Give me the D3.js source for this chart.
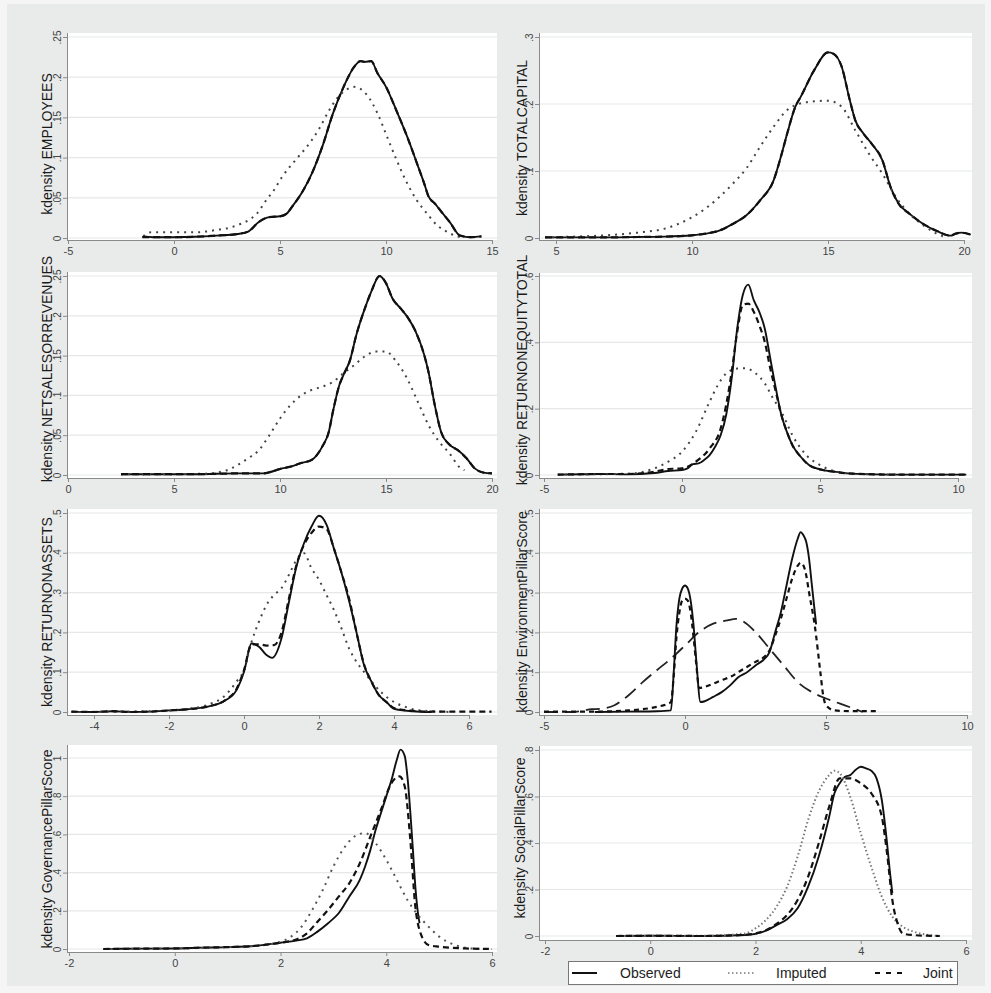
<!DOCTYPE html>
<html><head><meta charset="utf-8">
<script src="https://cdn.jsdelivr.net/npm/d3@7"></script>
<style>body{margin:0;background:#f5f5f5}text{font-family:"Liberation Sans",Arial,sans-serif}</style>
</head><body><svg id="c" width="991" height="993"></svg>
<script>
// ---------- DATA ----------
const titles = ["kdensity EMPLOYEES","kdensity TOTALCAPITAL","kdensity NETSALESORREVENUES","kdensity RETURNONEQUITYTOTAL",
  "kdensity RETURNONASSETS","kdensity EnvironmentPillarScore","kdensity GovernancePillarScore","kdensity SocialPillarScore"];
const xTickValues = [[-5,0,5,10,15],[5,10,15,20],[0,5,10,15,20],[-5,0,5,10],[-4,-2,0,2,4,6],[-5,0,5,10],[-2,0,2,4,6],[-2,0,2,4,6]];
const yTickValues = [[0,.05,.1,.15,.2,.25],[0,.1,.2,.3],[0,.05,.1,.15,.2,.25],[0,.2,.4,.6],[0,.1,.2,.3,.4,.5],[0,.1,.2,.3,.4,.5],[0,.2,.4,.6,.8,1],[0,.2,.4,.6,.8]];
const yTickLabels = [["0",".05",".1",".15",".2",".25"],["0",".1",".2",".3"],["0",".05",".1",".15",".2",".25"],["0",".2",".4",".6"],
  ["0",".1",".2",".3",".4",".5"],["0",".1",".2",".3",".4",".5"],["0",".2",".4",".6",".8","1"],["0",".2",".4",".6",".8"]];
const legendLabels = ["Observed","Imputed","Joint"];

const employeesObserved = [[-1.45,0.002],[-1,0.001],[0,0.001],[1,0.0015],[2,0.003],[3,0.005],[3.5,0.008],[4,0.02],[4.5,0.026],[5,0.027],[5.3,0.03],[5.6,0.04],[6,0.055],[6.5,0.08],[7,0.114],[7.5,0.155],[8,0.188],[8.5,0.213],[8.8,0.22],[9.0,0.219],[9.3,0.22],[9.6,0.205],[10,0.188],[10.5,0.158],[11,0.126],[11.5,0.09],[11.8,0.068],[12,0.052],[12.3,0.043],[12.6,0.033],[13,0.02],[13.5,0.003],[14,0.001],[14.5,0.002]];
const employeesImputed = [[-1.45,0.002],[-1.1,0.007],[-0.5,0.007],[0,0.007],[0.5,0.007],[1,0.007],[1.5,0.008],[2,0.01],[2.5,0.012],[3,0.016],[3.5,0.022],[3.9,0.03],[4.35,0.047],[4.7,0.059],[5.1,0.076],[5.8,0.099],[6.4,0.118],[6.85,0.136],[7.3,0.158],[7.7,0.174],[8.1,0.184],[8.5,0.188],[9.1,0.178],[9.6,0.155],[10.05,0.126],[10.5,0.097],[11,0.068],[11.45,0.047],[11.95,0.03],[12.4,0.016],[12.9,0.0075],[13.35,0.002],[13.6,0.001]];
const employeesJoint = [[-1.5,0.001],[-1,0.001],[0,0.001],[1,0.0015],[2,0.003],[3,0.005],[3.5,0.008],[4,0.02],[4.5,0.026],[5,0.027],[5.3,0.03],[5.6,0.04],[6,0.055],[6.5,0.08],[7,0.114],[7.5,0.155],[8,0.188],[8.5,0.213],[8.8,0.22],[9.0,0.219],[9.3,0.22],[9.6,0.205],[10,0.188],[10.5,0.158],[11,0.126],[11.5,0.09],[11.8,0.068],[12,0.052],[12.3,0.043],[12.6,0.033],[13,0.02],[13.5,0.003],[14,0.001],[14.5,0.002]];

const capitalObserved = [[4.6,0.001],[6,0.001],[7,0.001],[8,0.0015],[9,0.002],[10,0.004],[10.5,0.0065],[11,0.011],[11.5,0.021],[12,0.034],[12.5,0.056],[13,0.086],[13.3,0.126],[13.5,0.156],[13.8,0.196],[14,0.211],[14.5,0.251],[15,0.277],[15.2,0.275],[15.5,0.256],[15.8,0.206],[16,0.176],[16.3,0.156],[16.6,0.141],[17,0.116],[17.3,0.076],[17.6,0.051],[18,0.036],[18.5,0.021],[19,0.0105],[19.5,0.0035],[19.7,0.0065],[19.9,0.008],[20.25,0.005]];
const capitalImputed = [[4.6,0.001],[6,0.0025],[7,0.0045],[8,0.008],[9,0.014],[9.5,0.021],[10,0.031],[10.5,0.044],[11,0.061],[11.5,0.081],[12,0.104],[12.5,0.136],[13,0.166],[13.5,0.191],[14,0.201],[14.5,0.204],[15,0.205],[15.5,0.196],[16,0.161],[16.5,0.126],[17,0.096],[17.5,0.061],[18,0.036],[18.5,0.019],[19,0.0065],[19.3,0.0015]];
const capitalJoint = [[4.6,0.001],[6,0.001],[7,0.001],[8,0.0015],[9,0.002],[10,0.004],[10.5,0.0065],[11,0.011],[11.5,0.021],[12,0.034],[12.5,0.056],[13,0.086],[13.3,0.126],[13.5,0.156],[13.8,0.196],[14,0.211],[14.5,0.251],[15,0.277],[15.2,0.275],[15.5,0.256],[15.8,0.206],[16,0.176],[16.3,0.156],[16.6,0.141],[17,0.116],[17.3,0.076],[17.6,0.051],[18,0.036],[18.5,0.021],[19,0.0105],[19.5,0.0035],[19.7,0.0065],[19.9,0.008],[20.25,0.005]];

const salesObserved = [[2.5,0.001],[4,0.001],[6,0.001],[8,0.002],[9.2,0.002],[9.5,0.0034],[10,0.0075],[10.5,0.0105],[11,0.015],[11.5,0.019],[12,0.036],[12.3,0.054],[12.5,0.08],[12.8,0.113],[13,0.126],[13.3,0.144],[13.6,0.176],[14,0.209],[14.3,0.23],[14.7,0.25],[15,0.241],[15.3,0.222],[15.7,0.209],[16,0.199],[16.4,0.18],[16.8,0.151],[17,0.13],[17.3,0.088],[17.6,0.054],[18,0.038],[18.4,0.031],[18.8,0.021],[19.2,0.008],[19.6,0.003],[20,0.002]];
const salesImputed = [[2.5,0.001],[4,0.001],[6.5,0.0017],[7,0.003],[7.5,0.006],[8,0.0126],[8.5,0.021],[9,0.031],[9.5,0.05],[10,0.071],[10.5,0.088],[11,0.1],[11.5,0.107],[12,0.111],[12.5,0.117],[13,0.128],[13.5,0.138],[14,0.149],[14.5,0.155],[15,0.155],[15.5,0.142],[16,0.121],[16.5,0.092],[17,0.063],[17.5,0.042],[18,0.027],[18.5,0.009],[18.7,0.006]];
const salesJoint = [[2.5,0.001],[4,0.001],[6,0.001],[8,0.002],[9.2,0.002],[9.5,0.0034],[10,0.0075],[10.5,0.0105],[11,0.015],[11.5,0.019],[12,0.036],[12.3,0.054],[12.5,0.08],[12.8,0.113],[13,0.126],[13.3,0.144],[13.6,0.176],[14,0.209],[14.3,0.23],[14.7,0.25],[15,0.241],[15.3,0.222],[15.7,0.209],[16,0.199],[16.4,0.18],[16.8,0.151],[17,0.13],[17.3,0.088],[17.6,0.054],[18,0.038],[18.4,0.031],[18.8,0.021],[19.2,0.008],[19.6,0.003],[20,0.002]];

const roeObserved = [[-4.5,0.001],[-3,0.003],[-2,0.002],[-1,0.006],[-0.5,0.012],[0,0.015],[0.2,0.02],[0.4,0.033],[0.6,0.035],[0.8,0.045],[1,0.06],[1.2,0.085],[1.4,0.12],[1.6,0.181],[1.8,0.291],[2,0.441],[2.2,0.542],[2.4,0.574],[2.6,0.527],[2.8,0.492],[3,0.441],[3.2,0.351],[3.4,0.261],[3.6,0.181],[3.8,0.13],[4,0.09],[4.3,0.055],[4.6,0.03],[5,0.017],[5.5,0.01],[6,0.005],[7,0.002],[8,0.001],[10.3,0.001]];
const roeImputed = [[-4.5,0.001],[-2,0.004],[-1.5,0.008],[-1,0.02],[-0.5,0.04],[0,0.07],[0.5,0.13],[1,0.221],[1.3,0.271],[1.6,0.306],[2,0.321],[2.3,0.322],[2.6,0.311],[3,0.276],[3.3,0.231],[3.6,0.191],[4,0.12],[4.5,0.06],[5,0.03],[5.5,0.012],[6,0.005],[7,0.002],[8,0.001]];
const roeJoint = [[-4.5,0.001],[-3,0.003],[-2,0.003],[-1,0.01],[-0.5,0.018],[0,0.02],[0.5,0.04],[1,0.08],[1.4,0.14],[1.6,0.211],[1.8,0.311],[2,0.431],[2.2,0.512],[2.4,0.517],[2.6,0.492],[2.8,0.452],[3,0.401],[3.2,0.321],[3.4,0.251],[3.6,0.181],[3.8,0.13],[4,0.09],[4.3,0.055],[4.6,0.03],[5,0.017],[5.5,0.01],[6,0.005],[7,0.002],[8,0.001],[10.3,0.001]];

const roaObserved = [[-4.6,0.001],[-4,0],[-3.5,0.002],[-3,0],[-2.5,0.001],[-2,0.004],[-1.5,0.007],[-1,0.013],[-0.5,0.029],[-0.2,0.055],[0,0.101],[0.2,0.172],[0.4,0.164],[0.6,0.143],[0.75,0.136],[1,0.185],[1.2,0.277],[1.4,0.366],[1.6,0.424],[1.8,0.466],[2,0.493],[2.2,0.471],[2.4,0.41],[2.6,0.35],[2.8,0.28],[3,0.2],[3.2,0.118],[3.4,0.076],[3.6,0.042],[3.8,0.025],[4,0.008],[4.5,0.002],[5,0]];
const roaImputed = [[-4.6,0],[-2,0.003],[-1.5,0.008],[-1,0.017],[-0.5,0.042],[-0.2,0.076],[0,0.105],[0.2,0.176],[0.4,0.227],[0.6,0.269],[0.8,0.294],[1,0.311],[1.2,0.345],[1.4,0.382],[1.6,0.399],[1.8,0.361],[2,0.332],[2.2,0.294],[2.4,0.256],[2.6,0.21],[2.8,0.16],[3,0.126],[3.2,0.101],[3.45,0.071],[3.7,0.046],[4,0.025],[4.3,0.013],[4.6,0.005],[5,0.002],[5.5,0]];
const roaJoint = [[-4.6,0.001],[-4,0],[-3.5,0.002],[-3,0],[-2.5,0.001],[-2,0.004],[-1.5,0.007],[-1,0.013],[-0.5,0.03],[-0.2,0.058],[0,0.105],[0.2,0.17],[0.4,0.17],[0.6,0.167],[0.8,0.168],[1,0.2],[1.2,0.286],[1.4,0.37],[1.6,0.42],[1.8,0.45],[2,0.466],[2.2,0.46],[2.4,0.41],[2.6,0.35],[2.8,0.286],[3,0.2],[3.2,0.12],[3.4,0.076],[3.6,0.042],[3.8,0.025],[4,0.01],[4.5,0.003],[5,0.001],[6.6,0.001]];

const envObserved = [[-3.2,0],[-2,0.001],[-1,0.002],[-0.5,0.004],[-0.4,0.1],[-0.3,0.22],[-0.2,0.285],[-0.1,0.31],[0,0.318],[0.1,0.31],[0.2,0.28],[0.3,0.22],[0.4,0.13],[0.55,0.025],[0.7,0.027],[1,0.038],[1.3,0.05],[1.6,0.067],[1.9,0.088],[2.2,0.1],[2.5,0.117],[2.8,0.132],[3,0.151],[3.2,0.201],[3.4,0.251],[3.6,0.318],[3.8,0.385],[4,0.436],[4.1,0.452],[4.2,0.444],[4.3,0.427],[4.4,0.385],[4.5,0.318],[4.65,0.22]];
const envImputed = [[-5,0],[-4,0],[-3.3,0.007],[-3,0.008],[-2.5,0.017],[-2,0.042],[-1.5,0.075],[-1,0.105],[-0.5,0.134],[0,0.167],[0.5,0.201],[1,0.222],[1.5,0.23],[1.8,0.234],[2,0.23],[2.5,0.201],[3,0.159],[3.5,0.117],[4,0.075],[4.5,0.05],[5,0.034],[5.5,0.021],[6,0.008],[6.3,0]];
const envJoint = [[-5,0.001],[-4,0.001],[-3.2,0.001],[-2,0.004],[-1,0.013],[-0.6,0.021],[-0.5,0.025],[-0.4,0.09],[-0.3,0.19],[-0.2,0.25],[-0.1,0.28],[0,0.285],[0.1,0.28],[0.2,0.25],[0.3,0.19],[0.4,0.12],[0.5,0.06],[0.7,0.063],[1,0.071],[1.3,0.08],[1.6,0.088],[2,0.105],[2.5,0.126],[2.8,0.138],[3,0.155],[3.2,0.193],[3.4,0.235],[3.6,0.285],[3.8,0.335],[4,0.368],[4.1,0.375],[4.2,0.368],[4.3,0.343],[4.4,0.3],[4.6,0.218],[4.8,0.1],[4.9,0.042],[5,0.017],[5.3,0.004],[6,0.002],[6.8,0.002]];

const govObserved = [[-1.35,0],[-1,0.001],[0,0.003],[0.5,0.007],[1,0.01],[1.5,0.016],[2,0.033],[2.3,0.044],[2.5,0.056],[2.7,0.091],[2.9,0.135],[3.1,0.187],[3.3,0.274],[3.5,0.362],[3.6,0.432],[3.7,0.519],[3.8,0.624],[3.9,0.712],[4,0.799],[4.1,0.886],[4.2,0.991],[4.27,1.044],[4.35,1.01],[4.4,0.904],[4.5,0.537],[4.55,0.327],[4.6,0.187],[4.63,0.135]];
const govImputed = [[-1.35,0],[0,0.003],[1,0.01],[1.5,0.016],[2,0.038],[2.2,0.065],[2.4,0.117],[2.6,0.205],[2.8,0.309],[3,0.432],[3.2,0.528],[3.4,0.589],[3.6,0.607],[3.8,0.554],[4,0.467],[4.2,0.362],[4.4,0.257],[4.6,0.178],[4.8,0.117],[5,0.065],[5.3,0.021],[5.6,0.003],[6,0]];
const govJoint = [[-1.35,0],[-1,0.001],[0,0.003],[0.5,0.007],[1,0.01],[1.5,0.016],[2,0.033],[2.3,0.05],[2.5,0.082],[2.7,0.143],[2.9,0.205],[3.1,0.274],[3.3,0.344],[3.5,0.449],[3.7,0.589],[3.9,0.729],[4.1,0.869],[4.25,0.904],[4.35,0.851],[4.45,0.589],[4.55,0.222],[4.65,0.082],[4.8,0.021],[5,0.012],[5.5,0.003],[6,0]];

const socialObserved = [[-0.65,0],[0,0.001],[1,0],[1.8,0.004],[2.2,0.023],[2.4,0.047],[2.6,0.072],[2.8,0.119],[3,0.212],[3.2,0.341],[3.4,0.513],[3.5,0.614],[3.6,0.657],[3.7,0.685],[3.8,0.692],[3.9,0.714],[4,0.728],[4.1,0.721],[4.2,0.711],[4.3,0.678],[4.4,0.585],[4.5,0.398],[4.55,0.284],[4.6,0.184]];
const socialImputed = [[-0.65,0],[0,0.001],[1,0.001],[1.8,0.011],[2,0.033],[2.2,0.069],[2.4,0.126],[2.6,0.212],[2.8,0.341],[3,0.499],[3.2,0.621],[3.4,0.692],[3.5,0.711],[3.6,0.7],[3.8,0.599],[4,0.442],[4.2,0.298],[4.4,0.169],[4.6,0.083],[4.8,0.04],[5,0.019],[5.3,0.004],[5.5,0]];
const socialJoint = [[-0.65,0],[0,0.001],[1,0],[1.8,0.005],[2.2,0.025],[2.4,0.052],[2.6,0.09],[2.8,0.155],[3,0.255],[3.2,0.398],[3.4,0.556],[3.6,0.678],[3.8,0.678],[4,0.657],[4.2,0.614],[4.4,0.513],[4.5,0.355],[4.6,0.155],[4.7,0.054],[4.8,0.011],[5,0.004],[5.5,0]];

const observedSeries = [employeesObserved,capitalObserved,salesObserved,roeObserved,roaObserved,envObserved,govObserved,socialObserved];
const imputedSeries  = [employeesImputed,capitalImputed,salesImputed,roeImputed,roaImputed,envImputed,govImputed,socialImputed];
const jointSeries    = [employeesJoint,capitalJoint,salesJoint,roeJoint,roaJoint,envJoint,govJoint,socialJoint];

// ---------- LAYOUT (pixel geometry of each panel) ----------
const layout = [
  {x0:67, x1:497, y0:33,  y1:240, xr:[68,492],  yr:[238,37],  tx:52,  ty:144},
  {x0:539,x1:972, y0:33,  y1:240, xr:[556,964], yr:[238,37],  tx:527, ty:138},
  {x0:67, x1:497, y0:272, y1:478, xr:[68,492],  yr:[475,276], tx:52,  ty:369},
  {x0:539,x1:972, y0:273, y1:478, xr:[544,958], yr:[475,276], tx:527, ty:370},
  {x0:67, x1:497, y0:509, y1:715, xr:[94,469],  yr:[712,513], tx:52,  ty:612},
  {x0:539,x1:972, y0:509, y1:715, xr:[544,967], yr:[712,513], tx:527, ty:612},
  {x0:67, x1:497, y0:745, y1:952, xr:[69,492],  yr:[949,758], tx:52,  ty:849},
  {x0:539,x1:972, y0:746, y1:940, xr:[545,966], yr:[936,750], tx:525, ty:838}
];
const imputedDash = ["2,5","2,5","2,5","2,5","2,5","14,7","2,5","1.5,2.5"];
const imputedColor = ["#444","#444","#444","#444","#444","#222","#555","#777"];
const jointDash = ["7,4","7,4","7,4","6,4","6,4","5,4","6,4","6,4"];

const svg = d3.select("#c");
svg.append("rect").attr("x",7).attr("y",4).attr("width",978).attr("height",982).attr("fill","#e9ebeb");

layout.forEach((L,i)=>{
  const xT = xTickValues[i], yT = yTickValues[i];
  const x = d3.scaleLinear().domain([xT[0], xT[xT.length-1]]).range(L.xr);
  const y = d3.scaleLinear().domain([0, yT[yT.length-1]]).range(L.yr);
  const g = svg.append("g");
  g.append("rect").attr("x",L.x0).attr("y",L.y0).attr("width",L.x1-L.x0).attr("height",L.y1-L.y0).attr("fill","#fff");
  // grid
  g.selectAll(".grid").data(yT).join("line")
    .attr("x1",L.x0+1).attr("x2",L.x1).attr("y1",d=>y(d)).attr("y2",d=>y(d))
    .attr("stroke","#e6e8e8").attr("stroke-width",1.2);
  // axes
  const ax = g.append("g").attr("transform",`translate(0,${L.y1})`)
    .call(d3.axisBottom(x).tickValues(xT).tickFormat(d=>String(d)).tickSize(4).tickSizeOuter(0));
  ax.select(".domain").attr("d",`M${L.x0},0.5H${x(xT[xT.length-1])+1}`);
  const ay = g.append("g").attr("transform",`translate(${L.x0},0)`)
    .call(d3.axisLeft(y).tickValues(yT).tickFormat((d,j)=>yTickLabels[i][j]).tickSize(4).tickSizeOuter(0));
  ay.select(".domain").attr("d",`M0.5,${L.y1}V${L.y0}`);
  [ax,ay].forEach(a=>{
    a.selectAll(".domain").attr("stroke","#8a8a8a");
    a.selectAll(".tick line").attr("stroke","#8a8a8a");
    a.selectAll("text").attr("fill","#444").attr("font-size",11).attr("font-family","'Liberation Sans',Arial,sans-serif");
  });
  ay.selectAll(".tick text").attr("x",0).attr("y",-6).attr("dy",0).attr("font-size",10)
    .attr("text-anchor","middle").attr("transform","rotate(-90)");
  // title (baseline at tx)
  g.append("text").attr("transform",`translate(${L.tx},${L.ty}) rotate(-90)`)
    .attr("text-anchor","middle")
    .attr("font-size",14).attr("fill","#1a1a1a").text(titles[i]);
  const line = d3.line().x(d=>x(d[0])).y(d=>y(d[1])).curve(d3.curveMonotoneX);
  g.append("path").datum(observedSeries[i]).attr("d",line).attr("fill","none")
    .attr("stroke","#111").attr("stroke-width",1.9).attr("stroke-linejoin","round");
  g.append("path").datum(imputedSeries[i]).attr("d",line).attr("fill","none")
    .attr("stroke",imputedColor[i]).attr("stroke-width",i===5?1.8:2).attr("stroke-dasharray",imputedDash[i]);
  g.append("path").datum(jointSeries[i]).attr("d",line).attr("fill","none")
    .attr("stroke","#111").attr("stroke-width",2.2).attr("stroke-dasharray",jointDash[i]);
});

// legend
const lg = svg.append("g");
lg.append("rect").attr("x",568.5).attr("y",961.5).attr("width",389).attr("height",23).attr("fill","#fff").attr("stroke","#777");
const legX = [[572,597,620],[728,755,776],[875,902,923]];
const legStyle = [{dash:null,w:2,c:"#111"},{dash:"1.5,2.5",w:1.5,c:"#777"},{dash:"5,6",w:2.2,c:"#111"}];
legendLabels.forEach((t,k)=>{
  lg.append("line").attr("x1",legX[k][0]).attr("x2",legX[k][1]).attr("y1",973).attr("y2",973)
    .attr("stroke",legStyle[k].c).attr("stroke-width",legStyle[k].w).attr("stroke-dasharray",legStyle[k].dash);
  lg.append("text").attr("x",legX[k][2]).attr("y",973).attr("dominant-baseline","central")
    .attr("font-size",14).attr("fill","#222").text(t);
});
</script></body></html>
